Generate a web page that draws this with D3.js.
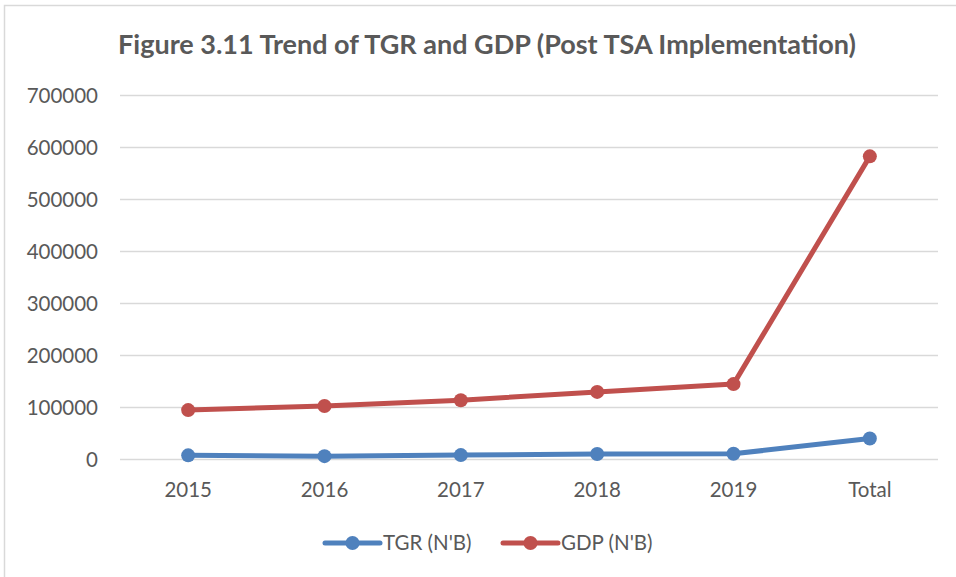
<!DOCTYPE html>
<html>
<head>
<meta charset="utf-8">
<script src="https://cdn.jsdelivr.net/npm/d3@7"></script>
<style>
  body { margin: 0; background: #fff; }
  text { font-family: Lato, "Open Sans", sans-serif; fill: #595959; }
</style>
</head>
<body>
<div id="chart"></div>
<script>
const categories = ['2015', '2016', '2017', '2018', '2019', 'Total']
const tgr = [7000, 5500, 7500, 9500, 10000, 39500]
const gdp = [94000, 102000, 113000, 129000, 144000, 582000]
const yTicks = [0, 100000, 200000, 300000, 400000, 500000, 600000, 700000]
const seriesNames = ["TGR (N'B)", "GDP (N'B)"]
const colors = ['#4F81BD', '#C0504D']

const width = 956, height = 577
const margin = {top: 95, right: 18, bottom: 118, left: 120}

const svg = d3.select('#chart').append('svg')
  .attr('width', width).attr('height', height)

// chart border
svg.append('rect')
  .attr('x', 4.5).attr('y', 5.5)
  .attr('width', width + 10).attr('height', height + 10)
  .attr('fill', 'none').attr('stroke', '#d9d9d9').attr('stroke-width', 1.5)

svg.append('text')
  .attr('x', 487).attr('y', 54)
  .attr('text-anchor', 'middle')
  .style('font-size', '27px').style('font-weight', 'bold')
  .text('Figure 3.11 Trend of TGR and GDP (Post TSA Implementation)')

const x = d3.scaleBand().domain(categories)
  .range([margin.left, width - margin.right])
const y = d3.scaleLinear().domain([0, 700000])
  .range([height - margin.bottom, margin.top])

const yAxis = d3.axisLeft(y).tickValues(yTicks)
  .tickSize(-(width - margin.right - margin.left)).tickPadding(22)
  .tickFormat(d3.format('d'))
const gy = svg.append('g')
  .attr('transform', `translate(${margin.left},0)`)
  .call(yAxis)
gy.select('.domain').remove()
gy.selectAll('line').attr('stroke', '#d9d9d9').attr('stroke-width', 1.5)
gy.selectAll('text').style('font-size', '20.5px').attr('dy', '0.35em')

const xAxis = d3.axisBottom(x).tickSize(0).tickPadding(23)
const gx = svg.append('g')
  .attr('transform', `translate(0,${height - margin.bottom})`)
  .call(xAxis)
gx.select('.domain').remove()
gx.selectAll('text').style('font-size', '20.5px')

const line = d3.line()
  .x((d, i) => x(categories[i]) + x.bandwidth() / 2)
  .y(d => y(d))

const series = [tgr, gdp]
series.forEach((vals, si) => {
  svg.append('path')
    .datum(vals)
    .attr('d', line)
    .attr('fill', 'none')
    .attr('stroke', colors[si])
    .attr('stroke-width', 5)
    .attr('stroke-linejoin', 'round')
  svg.selectAll(null)
    .data(vals)
    .enter().append('circle')
    .attr('cx', (d, i) => x(categories[i]) + x.bandwidth() / 2)
    .attr('cy', d => y(d))
    .attr('r', 7)
    .attr('fill', colors[si])
})

// legend
const legendX = [325, 503]
seriesNames.forEach((name, i) => {
  const g = svg.append('g').attr('transform', `translate(${legendX[i]},543)`)
  g.append('line')
    .attr('x1', 0).attr('x2', 55).attr('y1', 0).attr('y2', 0)
    .attr('stroke', colors[i]).attr('stroke-width', 5).attr('stroke-linecap', 'round')
  g.append('circle').attr('cx', 27.5).attr('cy', 0).attr('r', 7).attr('fill', colors[i])
  g.append('text')
    .attr('x', 58).attr('y', 0).attr('dy', '0.35em')
    .style('font-size', '20.5px')
    .text(name)
})
</script>
</body>
</html>
